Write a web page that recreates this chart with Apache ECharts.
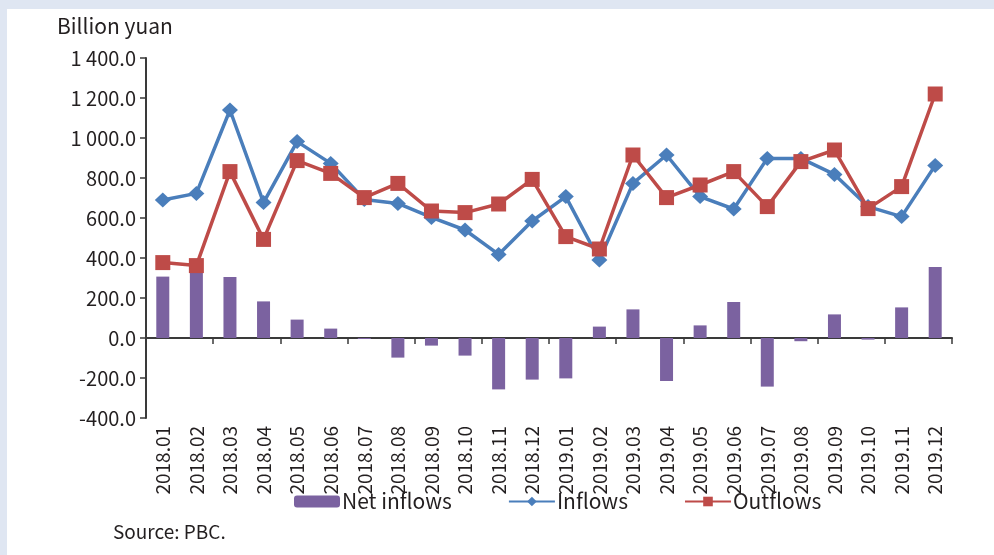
<!DOCTYPE html>
<html>
<head>
<meta charset="utf-8">
<title>Net inflows</title>
<script src="https://cdn.jsdelivr.net/npm/echarts@6/dist/echarts.min.js"></script>
<style>
  html, body { margin: 0; padding: 0; background: #dfe6f2; }
  #main { width: 994px; height: 555px; }
</style>
</head>
<body>
<div id="main"></div>
<script>
var months = ['2018.01','2018.02','2018.03','2018.04','2018.05','2018.06','2018.07','2018.08','2018.09','2018.10','2018.11','2018.12',
              '2019.01','2019.02','2019.03','2019.04','2019.05','2019.06','2019.07','2019.08','2019.09','2019.10','2019.11','2019.12'];
var netInflows = [307, 360, 305, 183, 92, 47, -5, -98, -38, -88, -257, -208,
                  -202, 57, 143, -215, 63, 180, -243, -16, 118, -8, 153, 355];
var inflows = [690, 723, 1140, 677, 982, 873, 693, 673, 603, 540, 418, 585,
               707, 390, 773, 915, 707, 645, 898, 898, 818, 657, 607, 863];
var outflows = [377, 362, 832, 493, 887, 823, 702, 773, 635, 627, 670, 793,
                507, 445, 915, 702, 765, 832, 657, 882, 940, 647, 757, 1220];

var ink = '#231f20';
var font = 'Noto Sans CJK SC';

function fmt(v) {
  var s = Math.abs(v).toFixed(1);
  var parts = s.split('.');
  var intPart = parts[0].replace(/\B(?=(\d{3})+(?!\d))/g, ' ');
  return (v < 0 ? '-' : '') + intPart + '.' + parts[1];
}

var chart = echarts.init(document.getElementById('main'));
chart.setOption({
  backgroundColor: '#dfe6f2',
  animation: false,
  graphic: [
    { type: 'rect', left: 7, top: 9, z: -10, shape: { width: 987, height: 546 }, style: { fill: '#ffffff' } },
    { type: 'text', left: 57, top: 16, style: { text: 'Billion yuan', font: '21px "Noto Sans CJK SC"', fill: ink } },
    { type: 'text', left: 113, top: 522, style: { text: 'Source: PBC.', font: '19px "Noto Sans CJK SC"', fill: ink } }
  ],
  grid: { left: 146, right: 42, top: 58, bottom: 137 },
  legend: {
    left: 289, top: 486,
    itemWidth: 46, itemHeight: 12, itemGap: 56,
    textStyle: { color: ink, fontFamily: font, fontSize: 21, padding: [0, 0, 0, -3] },
    data: ['Net inflows', 'Inflows', 'Outflows']
  },
  xAxis: [
    {
      type: 'category', data: months, position: 'bottom',
      axisLine: { show: false, onZero: false }, axisTick: { show: false },
      axisLabel: { rotate: 90, margin: 8, color: ink, fontFamily: font, fontSize: 19 }
    },
    {
      type: 'category', data: months, position: 'bottom',
      axisLine: { show: true, onZero: true, lineStyle: { color: '#3a3a3a', width: 2 } },
      axisTick: { show: true, alignWithLabel: false, length: 6, lineStyle: { color: '#3a3a3a', width: 1.5 } },
      axisLabel: { show: false }
    }
  ],
  yAxis: {
    type: 'value', min: -400, max: 1400, interval: 200,
    axisLine: { show: true, lineStyle: { color: '#3a3a3a', width: 2 } },
    axisTick: { show: true, length: 6, lineStyle: { color: '#3a3a3a', width: 1.5 } },
    splitLine: { show: false },
    axisLabel: { color: ink, fontFamily: font, fontSize: 20, margin: 10, formatter: fmt }
  },
  series: [
    {
      name: 'Net inflows', type: 'bar', data: netInflows, barWidth: 13,
      itemStyle: { color: '#7b62a0' }
    },
    {
      name: 'Inflows', type: 'line', data: inflows,
      symbol: 'diamond', symbolSize: [16, 15],
      lineStyle: { color: '#4a7ebb', width: 3.5 }, itemStyle: { color: '#4a7ebb' }
    },
    {
      name: 'Outflows', type: 'line', data: outflows,
      symbol: 'rect', symbolSize: 15,
      lineStyle: { color: '#be4b48', width: 3.5 }, itemStyle: { color: '#be4b48' }
    }
  ]
});
</script>
</body>
</html>
